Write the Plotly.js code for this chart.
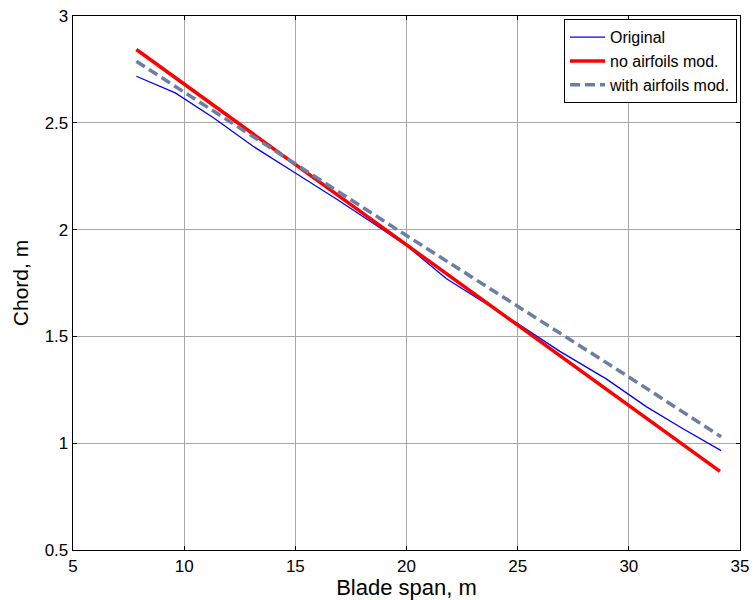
<!DOCTYPE html>
<html>
<head>
<meta charset="utf-8">
<script src="https://cdn.plot.ly/plotly-3.0.1.min.js"></script>
<style>html,body{margin:0;padding:0;background:#fff;}#chart{width:756px;height:600px;}</style>
</head>
<body>
<div id="chart"></div>
<script>
// Blade span (m) and chord (m)
const originalSpan  = [7.85, 9.6, 11.3, 13.1, 15.0, 16.9, 18.5, 20.0, 21.8, 23.5, 25.0, 26.9, 29.0, 30.8, 32.4, 34.15];
const originalChord = [2.718, 2.640, 2.525, 2.390, 2.265, 2.140, 2.030, 1.925, 1.770, 1.660, 1.560, 1.430, 1.300, 1.170, 1.070, 0.965];

const noModSpan  = [7.85, 15.0, 20.0, 25.0, 30.0, 34.1];
const noModChord = [2.843, 2.305, 1.929, 1.553, 1.180, 0.868];

const withModSpan  = [7.85, 20.0, 30.0, 34.15];
const withModChord = [2.788, 1.972, 1.310, 1.030];

const seriesNames = ["Original", "no airfoils mod.", "with airfoils mod."];
const xTicks = [5, 10, 15, 20, 25, 30, 35];
const yTicks = [0.5, 1, 1.5, 2, 2.5, 3];

const font = "Arial, 'Liberation Sans', Helvetica, sans-serif";

const traces = [
  {x: originalSpan, y: originalChord, name: seriesNames[0], mode: "lines",
   line: {color: "#0000ff", width: 1.3}},
  {x: noModSpan, y: noModChord, name: seriesNames[1], mode: "lines",
   line: {color: "#ff0000", width: 3.5}},
  {x: withModSpan, y: withModChord, name: seriesNames[2], mode: "lines",
   line: {color: "#6a7ea6", width: 3.5, dash: "10px,5px"}}
];

const axisCommon = {
  showline: true, linecolor: "#000", linewidth: 1.3, mirror: "ticks",
  ticks: "inside", ticklen: 4, tickcolor: "#000", tickwidth: 1,
  showgrid: true, gridcolor: "#a8a8a8", gridwidth: 1,
  zeroline: false, tickfont: {family: font, size: 17, color: "#000"}
};

const layout = {
  width: 756, height: 600,
  margin: {l: 73, r: 16, t: 16, b: 50},
  paper_bgcolor: "#fff", plot_bgcolor: "#fff",
  font: {family: font, color: "#000"},
  xaxis: Object.assign({}, axisCommon, {
    range: [5, 35], tickvals: xTicks, ticktext: xTicks.map(String),
    title: {text: "Blade span, m", font: {family: font, size: 22, color: "#000"}, standoff: 3}
  }),
  yaxis: Object.assign({}, axisCommon, {
    range: [0.5, 3], tickvals: yTicks, ticktext: yTicks.map(String),
    title: {text: "Chord, m", font: {family: font, size: 21, color: "#000"}, standoff: 10}
  }),
  showlegend: true,
  legend: {
    x: 0.9955, xanchor: "right", y: 0.994, yanchor: "top",
    bgcolor: "#fff", bordercolor: "#000", borderwidth: 1,
    font: {family: font, size: 16, color: "#000"},
    tracegroupgap: 0, itemwidth: 35
  }
};

Plotly.newPlot("chart", traces, layout, {displayModeBar: false, staticPlot: true});
</script>
</body>
</html>
